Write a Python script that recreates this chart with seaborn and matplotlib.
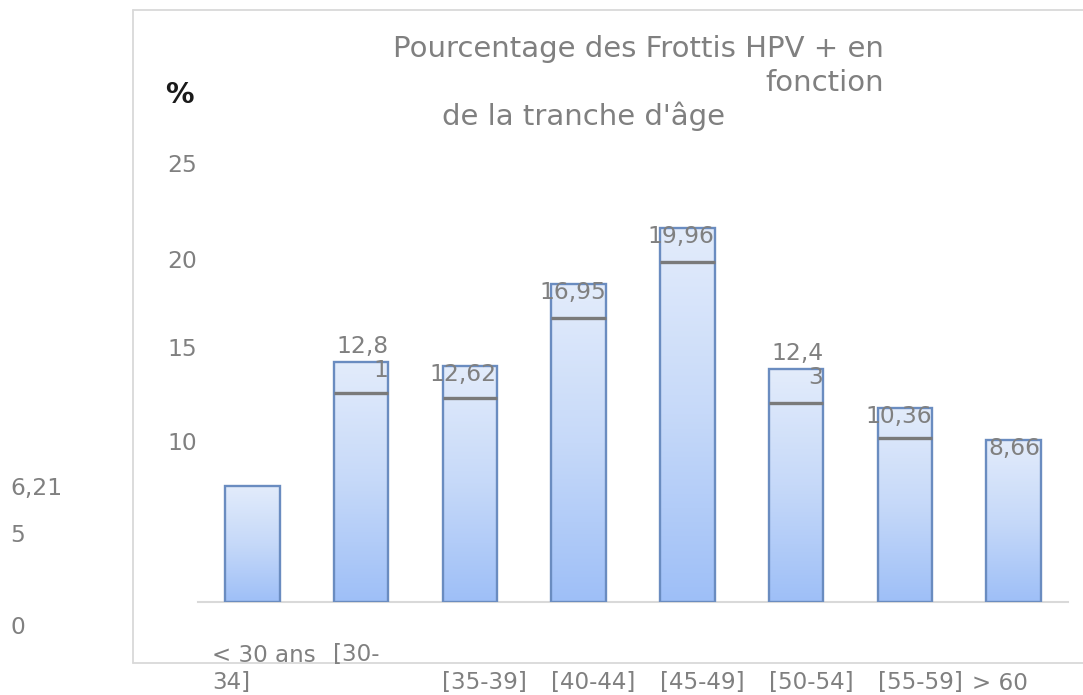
import numpy as np
import pandas as pd
import seaborn as sns
import matplotlib.pyplot as plt
from matplotlib.colors import LinearSegmentedColormap
from matplotlib.lines import Line2D

# Data
categories = ["< 30 ans", "[30-34]", "[35-39]", "[40-44]", "[45-49]", "[50-54]", "[55-59]", "> 60"]
values = [6.21, 12.81, 12.62, 16.95, 19.96, 12.43, 10.36, 8.66]
value_labels = ["6,21", "12,8\n1", "12,62", "16,95", "19,96", "12,4\n3", "10,36", "8,66"]
# dark grey marks drawn inside the bars (as they appear in the picture)
inner_marks = [np.nan, 11.15, 10.89, 15.15, 18.14, 10.62, 8.75, np.nan]
ytick_labels = ["0", "5", "10", "15", "20", "25"]

sns.set_theme(style="white")
plt.rcParams['font.family'] = ['DejaVu Sans']

W, H = 1083, 695
GREY = "#808080"
FS = 16.8
XFS = 16.6


def fx(x):
    return x / W


def fy(y):
    return 1 - y / H


fig = plt.figure(figsize=(W / 100, H / 100), dpi=100)
ax = fig.add_axes([fx(198), fy(602), (1068 - 198) / W, (602 - 10) / H])

df = pd.DataFrame({"tranche": categories, "pct": values})
sns.barplot(data=df, x="tranche", y="pct", ax=ax, width=0.5, color="#c5d8f8",
            edgecolor="#6a8cc0", linewidth=1.7, zorder=3)

# vertical gradient fill for each bar
cmap = LinearSegmentedColormap.from_list("blu", ["#9ebff7", "#c6d9f9", "#e3ecfb"])
grad = np.linspace(0, 1, 256).reshape(-1, 1)
for p in ax.patches:
    x0, w, h = p.get_x(), p.get_width(), p.get_height()
    im = ax.imshow(grad, cmap=cmap, extent=[x0, x0 + w, 0, h], origin="lower",
                   aspect="auto", zorder=2)
    im.set_clip_path(p)
    p.set_facecolor("none")

ax.hlines(inner_marks, np.arange(len(categories)) - 0.25, np.arange(len(categories)) + 0.25,
          color="#7a7a7a", lw=2.4, zorder=4)

ax.set_xlim(-0.5, 7.5)
ax.set_ylim(0, 592 / 18.74)
ax.set_xlabel("")
ax.set_ylabel("")
ax.set_xticks([])
ax.set_yticks([])
for s in ["top", "right", "left"]:
    ax.spines[s].set_visible(False)
ax.spines["bottom"].set_color("#d9d9d9")
ax.spines["bottom"].set_linewidth(1.5)

# value labels, right-aligned on the bar's right edge
for i, (v, lab) in enumerate(zip(values, value_labels)):
    if i == 0:
        fig.text(fx(10), fy(489), lab, ha="left", va="center", color=GREY, fontsize=FS)
        continue
    ax.annotate(lab, (i + 0.25, v), xytext=(0, -20), textcoords="offset pixels",
                ha="right", va="bottom", multialignment="right", color=GREY,
                fontsize=FS, linespacing=1.05, zorder=5)

# y labels as they sit in the picture
ytick_pos = {"25": (182, 165, "center"), "20": (182, 262, "center"), "15": (182, 350, "center"),
             "10": (182, 443, "center"), "5": (10, 535, "left"), "0": (10, 627, "left")}
for t in ytick_labels:
    x, y, ha = ytick_pos[t]
    fig.text(fx(x), fy(y), t, ha=ha, va="center", color=GREY, fontsize=FS)

# x labels (wrapped as in the picture)
xkw = dict(ha="left", va="center", color=GREY, fontsize=XFS)
first, second = categories[1].split("-")
fig.text(fx(212), fy(655), categories[0], **xkw)
fig.text(fx(333), fy(655), first + "-", **xkw)
fig.text(fx(212), fy(683), second, **xkw)
for i, c in enumerate(categories[2:7], start=2):
    fig.text(fx(198 + 108.75 * i + 27), fy(683), c, **xkw)
fig.text(fx(972), fy(683), categories[7], **xkw)

# title
tkw = dict(va="baseline", color=GREY, fontsize=21)
fig.text(fx(884), fy(57), "Pourcentage des Frottis HPV + en", ha="right", **tkw)
fig.text(fx(884), fy(91), "fonction", ha="right", **tkw)
fig.text(fx(583), fy(125), "de la tranche d'âge", ha="center", **tkw)
fig.text(fx(165), fy(95), "%", ha="left", va="center", color="#1a1a1a",
         fontsize=20.5, fontweight="bold")

# chart frame
for xs, ys in [([133, 1083], [10, 10]), ([133, 133], [10, 663]), ([133, 1083], [663, 663])]:
    fig.add_artist(Line2D([fx(v) for v in xs], [fy(v) for v in ys], transform=fig.transFigure,
                          color="#d9d9d9", lw=1.3))

plt.savefig("out.png", dpi=100)
